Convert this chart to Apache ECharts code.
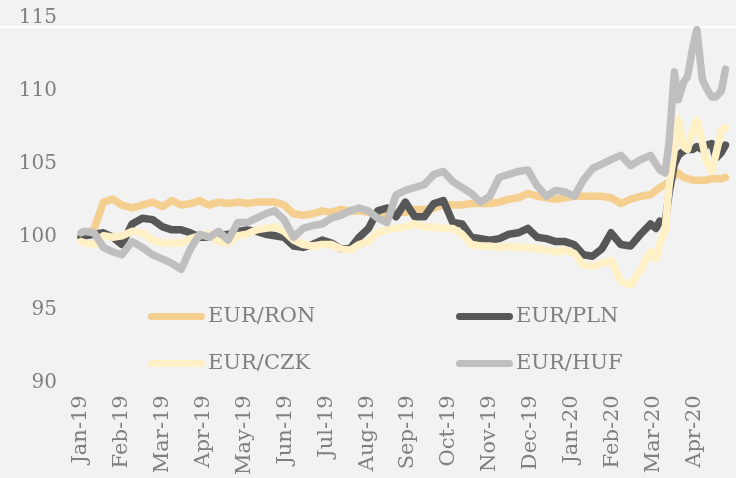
<!DOCTYPE html>
<html>
<head>
<meta charset="utf-8">
<script src="https://cdn.jsdelivr.net/npm/echarts@6/dist/echarts.min.js"></script>
<style>
  html, body { margin: 0; padding: 0; background: #f2f2f2; }
  #chart { width: 736px; height: 478px; }
</style>
</head>
<body>
<div id="chart"></div>
<script>
// month tick labels (value axis counts months from Jan 2019)
const monthLabels = ['Jan-19', 'Feb-19', 'Mar-19', 'Apr-19', 'May-19', 'Jun-19', 'Jul-19', 'Aug-19',
  'Sep-19', 'Oct-19', 'Nov-19', 'Dec-19', 'Jan-20', 'Feb-20', 'Mar-20', 'Apr-20'];

const dates = [
  '2019-01-01', '2019-01-04', '2019-01-11', '2019-01-18', '2019-01-25',
  '2019-02-01', '2019-02-08', '2019-02-15', '2019-02-22',
  '2019-03-01', '2019-03-08', '2019-03-15', '2019-03-22', '2019-03-29',
  '2019-04-05', '2019-04-12', '2019-04-19', '2019-04-26',
  '2019-05-03', '2019-05-10', '2019-05-17', '2019-05-24', '2019-05-31',
  '2019-06-07', '2019-06-14', '2019-06-21', '2019-06-28',
  '2019-07-05', '2019-07-12', '2019-07-19', '2019-07-26',
  '2019-08-02', '2019-08-09', '2019-08-16', '2019-08-23', '2019-08-30',
  '2019-09-06', '2019-09-13', '2019-09-20', '2019-09-27',
  '2019-10-04', '2019-10-11', '2019-10-18', '2019-10-25',
  '2019-11-01', '2019-11-08', '2019-11-15', '2019-11-22', '2019-11-29',
  '2019-12-06', '2019-12-13', '2019-12-20', '2019-12-27',
  '2020-01-03', '2020-01-10', '2020-01-17', '2020-01-24', '2020-01-31',
  '2020-02-07', '2020-02-14', '2020-02-21', '2020-02-28',
  '2020-03-03', '2020-03-06', '2020-03-10', '2020-03-13', '2020-03-17', '2020-03-20', '2020-03-24', '2020-03-27', '2020-03-31',
  '2020-04-03', '2020-04-07', '2020-04-10', '2020-04-14', '2020-04-17', '2020-04-21', '2020-04-24'
];

const eurRon = [
  100.0, 100.1, 100.6, 102.4, 102.6,
  102.2, 102.0, 102.2, 102.4,
  102.1, 102.5, 102.2, 102.3, 102.5,
  102.2, 102.4, 102.3, 102.4,
  102.3, 102.4, 102.4, 102.4, 102.2,
  101.6, 101.5, 101.6, 101.8,
  101.7, 101.9, 101.8, 101.8,
  101.7, 101.5, 101.6, 101.7, 101.7,
  101.9, 101.9, 102.0, 102.2,
  102.2, 102.2, 102.3, 102.3,
  102.3, 102.4, 102.6, 102.7, 103.0,
  102.8, 102.7, 102.6, 102.7,
  102.8, 102.8, 102.8, 102.8, 102.7,
  102.3, 102.6, 102.8, 102.9,
  103.2, 103.4, 103.6, 103.8, 104.2, 104.4, 104.1, 104.0, 103.9,
  103.9, 103.9, 103.9, 104.0, 104.0, 104.0, 104.1
];

const eurPln = [
  100.0, 100.1, 100.2, 100.3, 100.0,
  99.5, 100.9, 101.3, 101.2,
  100.7, 100.5, 100.5, 100.3, 100.0,
  100.0, 100.1, 100.2, 100.4,
  100.5, 100.4, 100.2, 100.1, 100.0,
  99.4, 99.3, 99.5, 99.8,
  99.6, 99.2, 99.2, 100.0,
  100.6, 101.8, 102.0, 101.4, 102.4,
  101.4, 101.4, 102.3, 102.5,
  101.0, 100.9, 100.0, 99.9,
  99.8, 99.9, 100.2, 100.3, 100.6,
  100.0, 99.9, 99.7, 99.7,
  99.5, 98.8, 98.7, 99.2, 100.3,
  99.5, 99.4, 100.2, 100.9,
  100.6, 101.1, 101.0, 103.0, 105.0, 105.6, 105.9, 106.0, 106.0,
  106.2, 106.0, 106.3, 106.4, 105.4, 105.8, 106.3
];

const eurCzk = [
  99.7, 99.6, 99.5, 100.1, 100.0,
  100.1, 100.4, 100.3, 99.8,
  99.6, 99.6, 99.6, 99.9, 100.1,
  100.2, 99.7, 99.6, 100.1,
  100.2, 100.5, 100.6, 100.7, 100.4,
  99.8, 99.5, 99.4, 99.5,
  99.5, 99.2, 99.1, 99.5,
  99.7, 100.3, 100.5, 100.6, 100.7,
  100.9, 100.7, 100.7, 100.6,
  100.6, 100.2, 99.5, 99.4,
  99.4, 99.3, 99.4, 99.3, 99.3,
  99.2, 99.1, 99.0, 99.1,
  98.9, 98.1, 98.0, 98.2, 98.4,
  97.0, 96.7, 97.8, 99.0,
  98.5, 99.6, 100.5, 103.5, 106.0, 108.1, 106.2, 106.0, 107.3,
  108.0, 106.5, 105.2, 104.5, 105.7, 107.3, 107.5
];

const eurHuf = [
  100.3, 100.4, 100.3, 99.3, 99.0,
  98.8, 99.7, 99.3, 98.8,
  98.5, 98.2, 97.8, 99.2, 100.2,
  100.0, 100.4, 99.8, 101.0,
  101.0, 101.3, 101.6, 101.8, 101.2,
  100.0, 100.6, 100.8, 100.9,
  101.3, 101.5, 101.8, 102.0,
  101.8, 101.3, 101.0, 102.9, 103.2,
  103.4, 103.6, 104.3, 104.5,
  103.8, 103.4, 103.0, 102.4,
  102.8, 104.1, 104.3, 104.5, 104.6,
  103.5, 102.8, 103.2, 103.1,
  102.8, 103.9, 104.7, 105.0, 105.3,
  105.6, 104.9, 105.3, 105.6,
  105.0, 104.6, 104.4, 106.5, 111.3, 109.4, 110.6, 111.0, 113.0,
  114.2, 110.8, 110.2, 109.6, 109.6, 110.0, 111.5
];

const seriesNames = ['EUR/RON', 'EUR/PLN', 'EUR/CZK', 'EUR/HUF'];
const seriesColors = ['#f4cf8f', '#575757', '#fff0c6', '#bfbfbf'];
const seriesValues = [eurRon, eurPln, eurCzk, eurHuf];

// date string -> months since 1 Jan 2019 (fractional)
function toMonth(s) {
  const [y, m, d] = s.split('-').map(Number);
  const days = new Date(y, m, 0).getDate();
  return (y - 2019) * 12 + (m - 1) + (d - 1) / days;
}

const monthPos = dates.map(toMonth);
const textColor = '#7f7f7f';
const font = "'DejaVu Serif', serif";

// thick line with round ends, used as legend key
const pillIcon = 'path://M3.5,0 L53.5,0 A3.5,3.5 0 0 1 53.5,7 L3.5,7 A3.5,3.5 0 0 1 3.5,0 Z';

const legendPos = [
  { left: 148, top: 306 },
  { left: 456, top: 306 },
  { left: 148, top: 353 },
  { left: 456, top: 353 }
];

const chart = echarts.init(document.getElementById('chart'));

chart.setOption({
  backgroundColor: '#f2f2f2',
  animation: false,
  textStyle: { fontFamily: font },
  grid: { left: 81, right: 1, top: 18, bottom: 90 },
  graphic: [
    {
      type: 'line',
      z: -1,
      shape: { x1: 0, y1: 27, x2: 736, y2: 27 },
      style: { stroke: '#ffffff', lineWidth: 2.5 }
    }
  ],
  legend: seriesNames.map((name, i) => ({
    data: [{ name: name, icon: pillIcon }],
    left: legendPos[i].left,
    top: legendPos[i].top,
    padding: 0,
    itemWidth: 57,
    itemHeight: 7,
    itemGap: 0,
    textStyle: { color: textColor, fontSize: 21, fontFamily: font, padding: [0, 0, 0, -2] }
  })),
  xAxis: {
    type: 'value',
    min: 0,
    max: 16,
    interval: 1,
    axisLine: { show: false },
    axisTick: { show: false },
    splitLine: { show: false },
    axisLabel: {
      rotate: 90,
      margin: 12,
      color: textColor,
      fontSize: 21,
      fontFamily: font,
      formatter: v => monthLabels[v] || ''
    }
  },
  yAxis: {
    type: 'value',
    min: 90,
    max: 115,
    interval: 5,
    axisLine: { show: false },
    axisTick: { show: false },
    splitLine: { show: false },
    axisLabel: { margin: 24, color: textColor, fontSize: 20, fontFamily: font, padding: [0, 0, 6, 0] }
  },
  series: seriesNames.map((name, i) => ({
    name: name,
    type: 'line',
    symbol: 'none',
    color: seriesColors[i],
    lineStyle: { width: 7.5, color: seriesColors[i], cap: 'round', join: 'round' },
    data: seriesValues[i].map((v, j) => [monthPos[j], v])
  }))
});
</script>
</body>
</html>
